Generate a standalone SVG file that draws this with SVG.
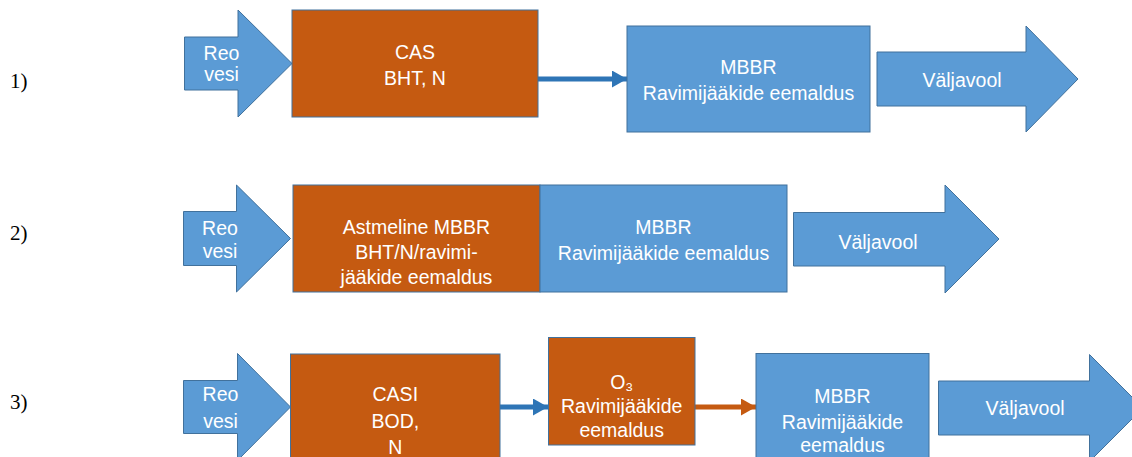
<svg xmlns="http://www.w3.org/2000/svg" width="1132" height="457" viewBox="0 0 1132 457">
  <style>
    .blue { fill: #5B9BD5; stroke: #41719C; stroke-width: 1; }
    .orange { fill: #C55A11; stroke: #41719C; stroke-width: 1; }
    .t { font-family: "Liberation Sans", "DejaVu Sans", Arial, sans-serif; font-size: 19.5px; fill: #FFFFFF; text-anchor: middle; }
    .num { font-family: "Liberation Serif", "DejaVu Serif", serif; font-size: 21px; fill: #000000; font-variant-numeric: oldstyle-nums; }
    .cb { fill: none; stroke: #2E75B6; stroke-width: 5; }
    .co { fill: none; stroke: #C55A11; stroke-width: 5; }
  </style>
  <defs>
    <marker id="hb" markerUnits="userSpaceOnUse" markerWidth="16" markerHeight="17" refX="15" refY="8.5" orient="auto">
      <path d="M0,0 L15,8.5 L0,17 Z" fill="#2E75B6"/>
    </marker>
    <marker id="ho" markerUnits="userSpaceOnUse" markerWidth="16" markerHeight="17" refX="15" refY="8.5" orient="auto">
      <path d="M0,0 L15,8.5 L0,17 Z" fill="#C55A11"/>
    </marker>
  </defs>

  <!-- row labels -->
  <g id="label1"><text class="num" x="10" y="88">1)</text></g>
  <g id="label2"><text class="num" x="10" y="240">2)</text></g>
  <g id="label3"><text class="num" x="10" y="409">3)</text></g>

  <!-- connectors -->
  <g id="connectors">
    <path class="cb" d="M538,79 L627,79" marker-end="url(#hb)"/>
    <path class="cb" d="M500,407 L548,407" marker-end="url(#hb)"/>
    <path class="co" d="M695,407 L756,407" marker-end="url(#ho)"/>
  </g>

  <!-- Row 1 -->
  <g id="r1-reo">
    <polygon class="blue" points="184.5,37 238,37 238,10 292,63.5 238,117 238,90 184.5,90"/>
    <text class="t" x="221.5" y="59.5">Reo</text>
    <text class="t" x="221.5" y="81">vesi</text>
  </g>
  <g id="r1-cas">
    <rect class="orange" x="292" y="10" width="246" height="107"/>
    <text class="t" x="415" y="58.5">CAS</text>
    <text class="t" x="415" y="85">BHT, N</text>
  </g>
  <g id="r1-mbbr">
    <rect class="blue" x="627" y="26" width="243" height="106"/>
    <text class="t" x="748.5" y="73.5">MBBR</text>
    <text class="t" x="748.5" y="100">Ravimijääkide eemaldus</text>
  </g>
  <g id="r1-valjavool">
    <polygon class="blue" points="877,52 1026,52 1026,26 1078,79 1026,132 1026,106 877,106"/>
    <text class="t" x="962" y="87">Väljavool</text>
  </g>

  <!-- Row 2 -->
  <g id="r2-reo">
    <polygon class="blue" points="183.5,211.5 236.5,211.5 236.5,185 290.5,238.5 236.5,292 236.5,265.5 183.5,265.5"/>
    <text class="t" x="220" y="234.5">Reo</text>
    <text class="t" x="220" y="257.5">vesi</text>
  </g>
  <g id="r2-astmeline">
    <rect class="orange" x="293" y="185" width="247" height="107"/>
    <text class="t" x="416.5" y="233.5">Astmeline MBBR</text>
    <text class="t" x="416.5" y="258.5">BHT/N/ravimi-</text>
    <text class="t" x="416.5" y="283.5">jääkide eemaldus</text>
  </g>
  <g id="r2-mbbr">
    <rect class="blue" x="540" y="185" width="247" height="107"/>
    <text class="t" x="663.5" y="233.5">MBBR</text>
    <text class="t" x="663.5" y="260">Ravimijääkide eemaldus</text>
  </g>
  <g id="r2-valjavool">
    <polygon class="blue" points="793.5,212.5 945,212.5 945,185 999,239 945,293 945,266 793.5,266"/>
    <text class="t" x="878" y="248.5">Väljavool</text>
  </g>

  <!-- Row 3 -->
  <g id="r3-reo">
    <polygon class="blue" points="183.5,380.5 237.5,380.5 237.5,353.5 290.5,407 237.5,460.5 237.5,433.5 183.5,433.5"/>
    <text class="t" x="220.5" y="401">Reo</text>
    <text class="t" x="220.5" y="427.5">vesi</text>
  </g>
  <g id="r3-casi">
    <rect class="orange" x="290.5" y="354" width="209.5" height="108"/>
    <text class="t" x="395.3" y="401">CASI</text>
    <text class="t" x="395.3" y="427.5">BOD,</text>
    <text class="t" x="395.3" y="453.5">N</text>
  </g>
  <g id="r3-o3">
    <rect class="orange" x="548.5" y="337.5" width="146.5" height="107.5"/>
    <text class="t" x="621.7" y="388.5">O₃</text>
    <text class="t" x="621.7" y="412.5">Ravimijääkide</text>
    <text class="t" x="621.7" y="436.5">eemaldus</text>
  </g>
  <g id="r3-mbbr">
    <rect class="blue" x="756" y="353.5" width="173" height="108"/>
    <text class="t" x="842.5" y="403">MBBR</text>
    <text class="t" x="842.5" y="428.5">Ravimijääkide</text>
    <text class="t" x="842.5" y="452">eemaldus</text>
  </g>
  <g id="r3-valjavool">
    <polygon class="blue" points="938.5,381 1089.5,381 1089.5,354.5 1143,408 1089.5,461.5 1089.5,435 938.5,435"/>
    <text class="t" x="1025" y="415">Väljavool</text>
  </g>
</svg>
